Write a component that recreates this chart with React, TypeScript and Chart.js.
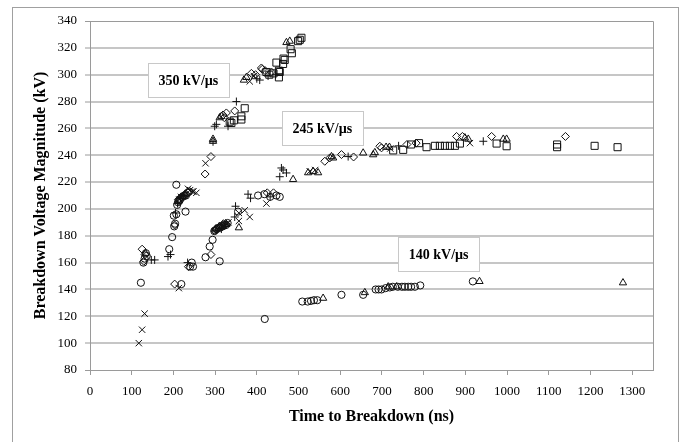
import { useEffect, useRef } from "react";
import { Chart, registerables } from "chart.js";

Chart.register(...registerables);

type P = [number, number];

const xTickValues = [0, 100, 200, 300, 400, 500, 600, 700, 800, 900, 1000, 1100, 1200, 1300];
const yTickValues = [80, 100, 120, 140, 160, 180, 200, 220, 240, 260, 280, 300, 320, 340];

const circlePts: P[] = [
  [122, 145], [219, 144], [128, 160], [131, 163], [134, 167], [136, 165], [207, 218], [190, 170],
  [197, 179], [202, 187], [204, 189], [201, 195], [207, 196], [209, 203], [214, 206], [222, 209],
  [230, 210], [238, 213], [229, 198], [240, 157], [247, 157], [244, 160], [211, 205], [216, 207],
  [226, 210], [234, 212],
  [277, 164], [287, 172], [294, 177], [311, 161], [300, 184], [308, 186], [318, 187], [326, 188],
  [298, 183.5], [304, 185], [312, 186], [322, 188], [330, 189.5],
  [355, 198], [403, 210], [418, 211], [432, 209], [447, 210], [455, 209],
  [419, 118], [509, 131], [522, 131], [530, 131.5], [537, 132], [545, 132], [603, 136], [655, 136],
  [685, 140], [692, 140], [699, 140], [709, 141], [719, 141.5], [726, 142], [738, 142], [748, 142],
  [755, 142], [763, 142], [770, 142], [779, 142], [792, 143], [918, 146],
];

const diamondPts: P[] = [
  [125, 170], [129, 161], [132, 166], [203, 144], [236, 157], [203, 188], [212, 207], [225, 210],
  [219, 209], [231, 211], [276, 226], [290, 239], [290, 166], [302, 185], [320, 189], [306, 185.5],
  [316, 187], [347, 273], [319, 270], [327, 271.5], [322, 268], [387, 301], [397, 300], [411, 305],
  [413, 304], [420, 303], [435, 302], [425, 212], [440, 212], [563, 235.5], [575, 238], [603, 240.5],
  [632, 238.7], [695, 246.7], [699, 245.5], [760, 248], [782, 249], [879, 254], [893, 254],
  [963, 254], [1140, 254],
];

const squarePts: P[] = [
  [335, 265], [339, 264], [345, 266], [363, 269], [363, 266.6], [371, 275], [423, 302], [430, 300],
  [440, 301], [447, 309], [453, 303], [453, 298], [455, 302], [464, 312], [463, 308], [467, 311],
  [481, 319], [484, 316], [499, 325], [503, 326], [507, 327.5], [727, 243.6], [751, 244], [770, 248],
  [789, 249], [807, 246], [827, 247], [839, 247], [851, 247], [863, 247], [875, 247], [887, 248.7],
  [975, 248.7], [999, 246.7], [1120, 248], [1120, 246], [1210, 247], [1265, 246],
];

const trianglePts: P[] = [
  [133, 167], [213, 206], [222, 209], [228, 211], [295, 250.4], [295, 252], [311, 268], [315, 269],
  [369, 296], [375, 298], [471, 324], [479, 325], [300, 184.5], [318, 187.5], [327, 188.5],
  [357, 186], [310, 187], [487, 222], [523, 227], [535, 228], [547, 227], [579, 239], [583, 238],
  [655, 241.7], [679, 240.4], [683, 242], [710, 246], [718, 246], [899, 253], [907, 252], [991, 252],
  [999, 252], [559, 133.5], [659, 137.7], [715, 142], [735, 142], [934, 146], [1278, 145],
];

const plusPts: P[] = [
  [147, 162], [155, 162], [187, 164.5], [193, 166], [205, 197], [217, 208], [210, 204], [224, 210],
  [234, 160], [303, 263], [299, 261.6], [331, 261.6], [351, 280], [400, 297], [407, 296], [427, 299],
  [445, 300], [302, 184], [324, 188], [349, 202], [347, 194], [379, 211], [385, 208], [432, 209],
  [459, 230.5], [463, 229], [471, 226.8], [455, 224], [619, 239], [740, 247], [943, 250.4],
  [295, 250], [315, 185],
];

const crossPts: P[] = [
  [117, 100], [125, 110], [131, 122], [213, 141], [255, 212], [235, 215], [245, 213], [218, 209],
  [240, 214], [248, 213], [214, 207], [277, 234], [383, 295], [393, 299], [309, 186], [320, 187.5],
  [332, 190], [328, 189], [357, 197], [357, 191], [371, 199], [383, 194], [423, 204], [527, 228],
  [540, 229], [720, 245], [911, 249],
];

const rateLabels = ["350 kV/µs", "245 kV/µs", "140 kV/µs"];
const rateLabelX = [236, 557, 836];
const rateLabelY = [295.7, 260, 166.2];

const SERIF = "'Liberation Serif', 'Times New Roman', serif";
const AXIS_GREY = "#9a9a9a";

const toData = (pts: P[]) => pts.map(([x, y]) => ({ x, y }));

export default function App() {
  const ref = useRef<HTMLCanvasElement | null>(null);

  useEffect(() => {
    if (!ref.current) return;

    const frame = {
      id: "plotFrame",
      beforeDatasetsDraw(chart: any) {
        const { ctx, chartArea } = chart;
        ctx.save();
        ctx.strokeStyle = AXIS_GREY;
        ctx.lineWidth = 1;
        ctx.beginPath();
        ctx.moveTo(Math.round(chartArea.left) + 0.5, Math.round(chartArea.top) + 0.5);
        ctx.lineTo(Math.round(chartArea.right) + 0.5, Math.round(chartArea.top) + 0.5);
        ctx.lineTo(Math.round(chartArea.right) + 0.5, Math.round(chartArea.bottom) + 0.5);
        ctx.stroke();
        ctx.restore();
      },
    };

    const labels = {
      id: "rateLabels",
      afterDatasetsDraw(chart: any) {
        const { ctx } = chart;
        const xs = chart.scales.x;
        const ys = chart.scales.y;
        ctx.save();
        rateLabels.forEach((t, i) => {
          const cx = xs.getPixelForValue(rateLabelX[i]);
          const cy = ys.getPixelForValue(rateLabelY[i]);
          const w = 81;
          const h = 34;
          const l = Math.round(cx - w / 2) + 0.5;
          const tp = Math.round(cy - h / 2) + 0.5;
          ctx.fillStyle = "#ffffff";
          ctx.fillRect(l, tp, w, h);
          ctx.strokeStyle = "#c8c8c8";
          ctx.lineWidth = 1;
          ctx.strokeRect(l, tp, w, h);
          ctx.fillStyle = "#000";
          ctx.font = `bold 14px ${SERIF}`;
          ctx.textAlign = "center";
          ctx.textBaseline = "middle";
          ctx.fillText(t, cx, cy + 1);
        });
        ctx.restore();
      },
    };

    const mk = (label: string, pts: P[], style: any, r: number) => ({
      label,
      data: toData(pts),
      pointStyle: style,
      pointRadius: r,
      pointHoverRadius: r,
      pointBorderWidth: 1,
      borderColor: "#111",
      backgroundColor: "rgba(0,0,0,0)",
      showLine: false,
    });

    const chart = new Chart(ref.current, {
      type: "scatter",
      data: {
        datasets: [
          mk("circle", circlePts, "circle", 3.6),
          mk("diamond", diamondPts, "rectRot", 4),
          mk("square", squarePts, "rect", 5),
          mk("triangle", trianglePts, "triangle", 4.2),
          mk("plus", plusPts, "cross", 4),
          mk("cross", crossPts, "crossRot", 4.5),
        ],
      },
      options: {
        responsive: false,
        animation: false,
        devicePixelRatio: 1,
        layout: { padding: { left: 0, top: 21, right: 29, bottom: 0 } },
        plugins: { legend: { display: false }, tooltip: { enabled: false } },
        scales: {
          x: {
            type: "linear",
            min: 0,
            max: 1350,
            afterBuildTicks: (ax: any) => {
              ax.ticks = xTickValues.map((v) => ({ value: v }));
            },
            afterFit: (s: any) => {
              s.height = 72;
            },
            ticks: {
              includeBounds: false,
              maxRotation: 0,
              autoSkip: false,
              padding: 9,
              color: "#000",
              font: { family: SERIF, size: 13 },
              callback: (v: any) => String(v),
            },
            grid: {
              drawOnChartArea: false,
              drawTicks: true,
              tickLength: 5,
              color: AXIS_GREY,
              lineWidth: 1,
            },
            border: { display: true, color: AXIS_GREY, width: 1 },
            title: {
              display: true,
              text: "Time to Breakdown (ns)",
              color: "#000",
              font: { family: SERIF, size: 16, weight: "bold" },
              padding: { top: 0, bottom: 16 },
            },
          },
          y: {
            type: "linear",
            min: 80,
            max: 340,
            afterBuildTicks: (ax: any) => {
              ax.ticks = yTickValues.map((v) => ({ value: v }));
            },
            afterFit: (s: any) => {
              s.width = 90;
            },
            ticks: {
              padding: 8,
              color: "#000",
              font: { family: SERIF, size: 13 },
              callback: (v: any) => String(v),
            },
            grid: {
              drawTicks: true,
              tickLength: 5,
              tickColor: AXIS_GREY,
              tickWidth: 1,
              color: (c: any) =>
                c.tick && (c.tick.value === 80 || c.tick.value === 340) ? AXIS_GREY : "#c6c6c6",
              lineWidth: (c: any) =>
                c.tick && (c.tick.value === 80 || c.tick.value === 340) ? 1 : 2,
            },
            border: { display: true, color: AXIS_GREY, width: 1 },
            title: {
              display: true,
              text: "Breakdown Voltage Magnitude (kV)",
              color: "#000",
              font: { family: SERIF, size: 16, weight: "bold" },
              padding: { top: 31, bottom: 0 },
            },
          },
        },
      } as any,
      plugins: [frame, labels],
    });

    return () => chart.destroy();
  }, []);

  return (
    <div style={{ position: "fixed", left: 0, top: 0, width: 682, height: 442, background: "#fff", overflow: "hidden" }}>
      <div
        style={{
          position: "absolute",
          left: 12,
          top: 7,
          width: 667,
          height: 460,
          border: "1px solid #a0a0a0",
          boxSizing: "border-box",
        }}
      />
      <canvas ref={ref} width={682} height={442} style={{ position: "absolute", left: 0, top: 0, width: 682, height: 442 }} />
    </div>
  );
}
